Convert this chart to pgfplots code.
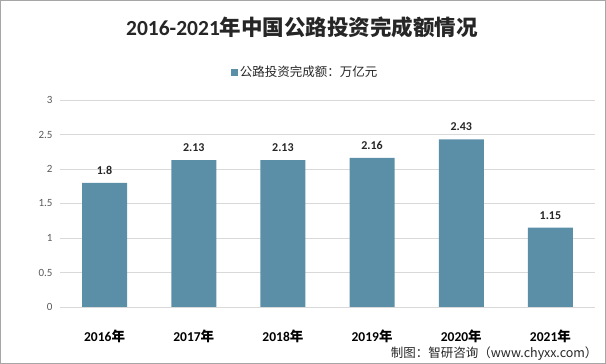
\documentclass[border=0pt]{standalone}
\usepackage{fontspec}
\usepackage{pgfplots}
\pgfplotsset{compat=1.18}
\setmainfont{Carlito}
\newfontfamily\cjk{Noto Sans CJK SC}
\definecolor{barc}{RGB}{91,143,168}
\definecolor{gridc}{RGB}{217,217,217}
\definecolor{tickc}{RGB}{89,89,89}
\begin{document}
\begin{tikzpicture}[x=1pt,y=1pt]
\draw[gray!70, line width=1pt] (0.5,0.5) rectangle (605.5,363.5);
\node[font=\fontsize{21.5}{21.5}\selectfont\bfseries, text=black!85] at (302,337) {2016-2021{\cjk 年中国公路投资完成额情况}};
\begin{axis}[
  at={(60pt,57pt)}, anchor=south west,
  scale only axis, width=535pt, height=207pt,
  xmin=-0.5, xmax=5.5, ymin=0, ymax=3,
  ytick={0,0.5,1,1.5,2,2.5,3},
  yticklabels={0,0.5,1,1.5,2,2.5,3},
  xtick={0,1,2,3,4,5},
  xticklabels={2016{\cjk 年},2017{\cjk 年},2018{\cjk 年},2019{\cjk 年},2020{\cjk 年},2021{\cjk 年}},
  xticklabel style={font=\fontsize{13.5}{13.5}\selectfont\bfseries, text=black, yshift=-19pt},
  yticklabel style={font=\fontsize{11}{11}\selectfont, text=tickc, xshift=-4pt},
  ymajorgrids, grid style={gridc, line width=0.8pt},
  major tick length=0pt,
  axis x line*=bottom, axis y line*=left,
  axis line style={draw=none},
  legend style={at={(axis description cs:0.458,1.135)}, anchor=center, draw=none, fill=none,
    font=\fontsize{12.5}{12.5}\selectfont\cjk, text=black!85},
  legend image code/.code={\fill[barc] (0pt,-3.5pt) rectangle (7pt,3.5pt);},
]
\draw[gridc, line width=0.8pt] (axis cs:-0.5,0) -- (axis cs:5.5,0);
\addplot[ybar, bar width=45pt, fill=barc, draw=none,
  nodes near coords, point meta=explicit symbolic,
  nodes near coords style={font=\fontsize{12}{12}\selectfont\bfseries, text=black!85, yshift=5pt}]
  coordinates {(0,1.8)[1.8] (1,2.13)[2.13] (2,2.13)[2.13] (3,2.16)[2.16] (4,2.43)[2.43] (5,1.15)[1.15]};
\addlegendentry{公路投资完成额：万亿元}
\end{axis}
\node[anchor=south east, font=\fontsize{12.5}{12.5}\selectfont\cjk, text=black!85] at (601,0) {制图：智研咨询（www.chyxx.com）};
\end{tikzpicture}
\end{document}
